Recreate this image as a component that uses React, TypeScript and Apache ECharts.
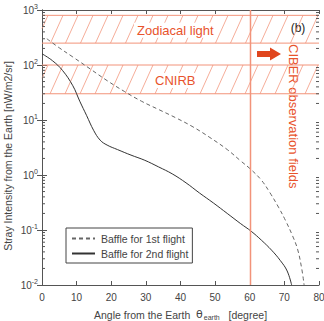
import React, { useEffect, useRef } from "react";
import * as echarts from "echarts";

// ---- data ----
const xTicks = [0, 10, 20, 30, 40, 50, 60, 70, 80];
const yDecades = [0.01, 0.1, 1, 10, 100, 1000];

const flight1X = [1.4, 5, 8.9, 13.9, 18.8, 23.8, 28.7, 33.7, 38.6, 43.6, 48.5, 53.5, 57.4, 60.4, 63.4, 65.8, 68.3, 70.3, 72.3, 73.8, 75, 75.7];
const flight1Y = [300, 205, 140, 85, 52, 33, 22, 15.5, 11, 7.5, 4.8, 2.9, 1.8, 1.25, 0.8, 0.48, 0.26, 0.15, 0.08, 0.045, 0.02, 0.01];

const flight2X = [0, 3, 5.9, 8.9, 10.9, 12.9, 14.9, 16.8, 18.8, 21.8, 25.7, 29.7, 33.7, 37.6, 41.6, 45.5, 49.5, 53.5, 57.4, 60.4, 63.4, 66.3, 68.8, 70.8, 72.1];
const flight2Y = [160, 120, 80, 42, 22, 12, 6.5, 4.3, 3.5, 2.9, 2.3, 1.85, 1.4, 1.05, 0.72, 0.47, 0.31, 0.2, 0.13, 0.095, 0.065, 0.043, 0.028, 0.018, 0.01];

const bandNames = ["Zodiacal light", "CNIRB"];
const bandLow = [250, 30];
const bandHigh = [800, 100];
const bandLabelX = [38.5, 38.5];

const observationAngle = [60];
const seriesNames = ["Baffle for 1st flight", "Baffle for 2nd flight"];
const yAxisTitle = "Stray Intensity from the Earth [nW/m2/sr]";

const ORANGE = "#e8532c";
const HATCH = "#f3987f";
const LINE_OR = "#f2937a";
const AXIS = "#555";

export default function App() {
  const ref = useRef<HTMLDivElement>(null);

  useEffect(() => {
    const chart = echarts.init(ref.current!, null, { renderer: "svg" });

    const minorVals: number[] = [];
    for (let k = -2; k <= 2; k++) {
      for (let m = 2; m <= 9; m++) minorVals.push(m * Math.pow(10, k));
    }

    const bandData = bandNames.map((n, i) => [bandLow[i], bandHigh[i], bandLabelX[i], i]);

    const supFmt = (v: number) => {
      const e = Math.round(Math.log10(v));
      return `{b|10}{e|${e}}`;
    };

    const option: any = {
      animation: false,
      grid: { left: 42, right: 5, top: 10, bottom: 36, containLabel: false, outerBoundsMode: "none" },
      xAxis: [
        {
          type: "value",
          min: 0,
          max: 80,
          interval: 10,
          position: "bottom",
          axisLine: { lineStyle: { color: AXIS, width: 1 } },
          axisTick: { inside: true, length: 4, lineStyle: { color: AXIS } },
          splitLine: { show: false },
          axisLabel: { color: "#444", fontSize: 10, fontFamily: "Liberation Sans", margin: 7 },
          name: "Angle from the Earth  {t|θ}{s|earth}   [degree]",
          nameLocation: "middle",
          nameGap: 23,
          nameTextStyle: {
            color: "#444",
            fontSize: 10.5,
            fontFamily: "Liberation Sans",
            rich: {
              t: { fontSize: 11, fontFamily: "DejaVu Sans", color: "#444" },
              s: { fontSize: 7, color: "#444", padding: [6, 0, 0, 1] },
            },
          },
        },
        {
          type: "value",
          min: 0,
          max: 80,
          interval: 10,
          position: "top",
          axisLine: { lineStyle: { color: AXIS, width: 1 } },
          axisTick: { inside: true, length: 4, lineStyle: { color: AXIS } },
          axisLabel: { show: false },
          splitLine: { show: false },
        },
      ],
      yAxis: [
        {
          type: "log",
          logBase: 10,
          min: 0.01,
          max: 1000,
          position: "left",
          axisLine: { show: true, lineStyle: { color: AXIS, width: 1 } },
          axisTick: { show: true, inside: true, length: 5, lineStyle: { color: AXIS } },
          splitLine: { show: false },
          axisLabel: {
            formatter: supFmt,
            margin: 4,
            rich: {
              b: { fontSize: 10, color: "#444", fontFamily: "Liberation Sans" },
              e: { fontSize: 7, color: "#444", fontFamily: "Liberation Sans", padding: [0, 0, 7, 0] },
            },
          },
        },
        {
          type: "log",
          logBase: 10,
          min: 0.01,
          max: 1000,
          position: "right",
          axisLine: { show: true, lineStyle: { color: AXIS, width: 1 } },
          axisTick: { show: true, inside: true, length: 5, lineStyle: { color: AXIS } },
          axisLabel: { show: false },
          splitLine: { show: false },
        },
      ],
      legend: {
        data: seriesNames,
        orient: "vertical",
        left: 66,
        top: 228,
        padding: [5, 4, 4, 5],
        itemWidth: 23,
        itemHeight: 10,
        itemGap: 4,
        borderColor: "#444",
        borderWidth: 1,
        backgroundColor: "#fff",
        itemStyle: { opacity: 0 },
        textStyle: { color: "#444", fontSize: 10.5, fontFamily: "Liberation Sans", padding: [0, 0, 0, 1] },
      },
      series: [
        {
          type: "custom",
          name: "bands",
          silent: true,
          z: 1,
          data: bandData,
          renderItem: (params: any, api: any) => {
            const lo = api.value(0);
            const hi = api.value(1);
            const lx = api.value(2);
            const idx = api.value(3);
            const tl = api.coord([0, hi]);
            const br = api.coord([80, lo]);
            const x0 = tl[0], x1 = br[0], yT = tl[1], yB = br[1];
            const h = yB - yT;
            const k = 0.45;
            const w = h * k;
            const children: any[] = [];
            for (let xb = x0 - w + 6; xb < x1; xb += 15) {
              let ax = xb, ay = yB, bx = xb + w, by = yT;
              if (ax < x0) {
                const t = (x0 - ax) / w;
                ax = x0;
                ay = yB - t * h;
              }
              if (bx > x1) {
                const t = (bx - x1) / w;
                bx = x1;
                by = yT + t * h;
              }
              if (bx <= ax) continue;
              children.push({
                type: "line",
                shape: { x1: ax, y1: ay, x2: bx, y2: by },
                style: { stroke: HATCH, lineWidth: 0.8 },
              });
            }
            children.push({ type: "line", shape: { x1: x0, y1: yT, x2: x1, y2: yT }, style: { stroke: LINE_OR, lineWidth: 1 } });
            children.push({ type: "line", shape: { x1: x0, y1: yB, x2: x1, y2: yB }, style: { stroke: LINE_OR, lineWidth: 1 } });
            const c = api.coord([lx, lo]);
            children.push({
              type: "text",
              x: c[0],
              y: (yT + yB) / 2 + 1,
              style: {
                text: bandNames[idx],
                fill: ORANGE,
                font: "13px 'Liberation Sans'",
                align: "center",
                verticalAlign: "middle",
                backgroundColor: "#fff",
                padding: [1, 3],
              },
            });
            return { type: "group", children };
          },
        },
        {
          type: "custom",
          name: "obsline",
          silent: true,
          z: 5,
          data: observationAngle.map((v) => [v]),
          renderItem: (params: any, api: any) => {
            const t = api.coord([api.value(0), 1000]);
            const b = api.coord([api.value(0), 0.01]);
            const x = Math.round(t[0]) + 0.5;
            return {
              type: "rect",
              shape: { x: x - 0.75, y: t[1], width: 1.5, height: b[1] - t[1] },
              style: { fill: LINE_OR, stroke: null },
            };
          },
        },
        {
          type: "custom",
          name: "minor",
          silent: true,
          z: 3,
          data: minorVals.map((v) => [v]),
          renderItem: (params: any, api: any) => {
            const v = api.value(0);
            const l = api.coord([0, v]);
            const r = api.coord([80, v]);
            return {
              type: "group",
              children: [
                { type: "line", shape: { x1: l[0], y1: l[1], x2: l[0] + 3, y2: l[1] }, style: { stroke: AXIS, lineWidth: 1 } },
                { type: "line", shape: { x1: r[0] - 3, y1: r[1], x2: r[0], y2: r[1] }, style: { stroke: AXIS, lineWidth: 1 } },
              ],
            };
          },
        },
        {
          type: "line",
          name: seriesNames[0],
          data: flight1X.map((x, i) => [x, flight1Y[i]]),
          symbol: "none",
          smooth: 0.4,
          z: 4,
          lineStyle: { color: "#666", width: 1, type: [4, 3] },
          itemStyle: { color: "#666" },
        },
        {
          type: "line",
          name: seriesNames[1],
          data: flight2X.map((x, i) => [x, flight2Y[i]]),
          symbol: "none",
          smooth: 0.4,
          z: 4,
          lineStyle: { color: "#333", width: 1, type: "solid" },
          itemStyle: { color: "#333" },
        },
      ],
      graphic: [
        {
          type: "text",
          x: 8,
          y: 156,
          rotation: Math.PI / 2,
          style: {
            text: yAxisTitle,
            fill: "#444",
            font: "10.5px 'Liberation Sans'",
            align: "center",
            verticalAlign: "middle",
          },
        },
        {
          type: "text",
          x: 298,
          y: 28,
          style: { text: "(b)", fill: "#222", font: "12px 'Liberation Sans'", align: "center", verticalAlign: "middle" },
        },
        {
          type: "polygon",
          shape: {
            points: [
              [257, 51],
              [270, 51],
              [270, 47.5],
              [281, 54],
              [270, 60.5],
              [270, 57],
              [257, 57],
            ],
          },
          style: { fill: "#e0461e" },
        },
        {
          type: "text",
          x: 293,
          y: 44,
          rotation: -Math.PI / 2,
          style: {
            text: "CIBER observation fields",
            fill: ORANGE,
            font: "13px 'Liberation Sans'",
            align: "left",
            verticalAlign: "middle",
          },
        },
      ],
    };

    chart.setOption(option);
    return () => chart.dispose();
  }, []);

  return <div ref={ref} style={{ width: 324, height: 321, position: "absolute", left: 0, top: 0 }} />;
}
